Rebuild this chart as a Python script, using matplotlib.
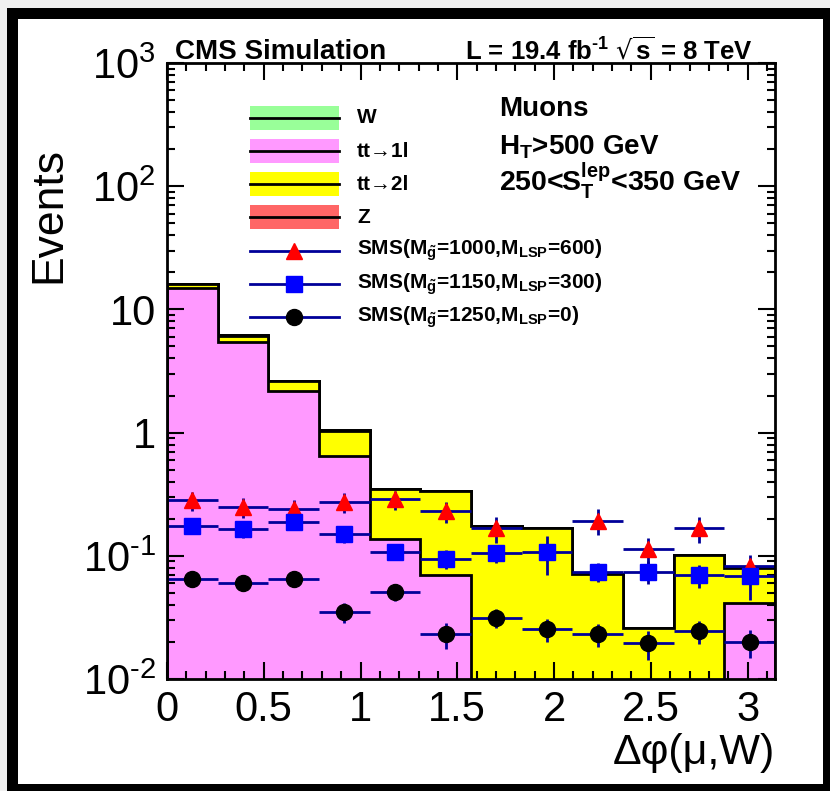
import numpy as np
import matplotlib
matplotlib.use('Agg')
import matplotlib.pyplot as plt
from matplotlib.patches import Rectangle
from matplotlib.ticker import MultipleLocator, FixedLocator, NullFormatter

plt.rcParams['font.family'] = ['Liberation Sans', 'DejaVu Sans']
plt.rcParams['mathtext.default'] = 'regular'

# 12 bins in delta phi, 0..pi
edges = np.linspace(0, np.pi, 13)

# background stack, bottom to top
tt1l = [14.9, 5.47, 2.19, 0.65, 0.136, 0.070, 0, 0, 0, 0, 0, 0.0416]
tt2l = [1.15, 0.65, 0.43, 0.39, 0.212, 0.266, 0.175, 0.168, 0.071, 0.026, 0.101, 0.0374]
wjets = [0.06, 0.03, 0.01, 0.005, 0, 0, 0, 0, 0, 0, 0, 0]
zjets = [0.02, 0.005, 0, 0, 0, 0, 0, 0, 0, 0, 0, 0]

# signal points
sms1000 = [0.282, 0.248, 0.240, 0.272, 0.287, 0.230, 0.167, np.nan, 0.193, 0.113, 0.167, 0.082]
sms1000_err = [0.05, 0.045, 0.043, 0.05, 0.05, 0.045, 0.04, np.nan, 0.045, 0.027, 0.04, 0.02]
sms1150 = [0.175, 0.164, 0.189, 0.150, 0.108, 0.095, 0.105, 0.108, 0.074, 0.0745, 0.0695, 0.068]
sms1150_err = [0.025, 0.024, 0.027, 0.022, 0.016, 0.017, 0.018, 0.038, 0.013, 0.0155, 0.0145, 0.024]
sms1250 = [0.065, 0.060, 0.065, 0.035, 0.051, 0.023, 0.0315, 0.0253, 0.0232, 0.0195, 0.0244, 0.020]
sms1250_err = [0.0085, 0.0085, 0.009, 0.0065, 0.008, 0.0055, 0.0055, 0.0055, 0.005, 0.0052, 0.005, 0.0052]

ytick_vals = [1e-2, 1e-1, 1, 10, 1e2, 1e3]
ytick_labels = ['$10^{\u2010 2}$', '$10^{\u2010 1}$', '1', '10', '$10^{2}$', '$10^{3}$']
xtick_vals = [0, 0.5, 1, 1.5, 2, 2.5, 3]
xtick_labels = ['0', '0.5', '1', '1.5', '2', '2.5', '3']

navy = '#000099'
bkg = [
    ('W', wjets, '#99ff99'),
    ('tt\u21921l', tt1l, '#ff99ff'),
    ('tt\u21922l', tt2l, '#ffff00'),
    ('Z', zjets, '#ff6666'),
]
stack_order = [tt1l, tt2l, wjets, zjets]
stack_colors = ['#ff99ff', '#ffff00', '#99ff99', '#ff6666']
signals = [
    ('SMS(M$_{\\tilde{g}}$=1000,M$_{LSP}$=600)', sms1000, sms1000_err, '^', 'red'),
    ('SMS(M$_{\\tilde{g}}$=1150,M$_{LSP}$=300)', sms1150, sms1150_err, 's', 'blue'),
    ('SMS(M$_{\\tilde{g}}$=1250,M$_{LSP}$=0)', sms1250, sms1250_err, 'o', 'black'),
]

fig = plt.figure(figsize=(8.3, 7.91), dpi=100)
fig.patch.set_facecolor('#f0f0f0')
W, H = 830.0, 791.0
fig.add_artist(Rectangle((7 / W, 0), 823 / W, 783 / H, transform=fig.transFigure,
                         facecolor='black', edgecolor='none', zorder=-2))
fig.add_artist(Rectangle((18 / W, 7 / H), 805 / W, 765 / H, transform=fig.transFigure,
                         facecolor='white', edgecolor='none', zorder=-1))

ax = fig.add_axes([167 / W, 1 - 679 / H, 608 / W, 616 / H])
ax.set_yscale('log')

# stacked histograms, drawn from the full stack down
cum = np.cumsum(np.array(stack_order, dtype=float), axis=0)
for vals, col in reversed(list(zip(cum, stack_colors))):
    v = np.where(vals > 0, vals, 1e-6)
    ax.stairs(v, edges, baseline=1e-6, fill=True, facecolor=col,
              edgecolor='black', linewidth=2, zorder=1)

centers = 0.5 * (edges[:-1] + edges[1:])
halfw = 0.5 * np.diff(edges)
for label, vals, errs, mk, col in signals:
    ax.errorbar(centers, vals, xerr=halfw, yerr=errs, fmt=mk, ms=11.5,
                mfc=col, mec=col, ecolor=navy, elinewidth=2, capsize=0, zorder=3)

ax.set_xlim(0, np.pi)
ax.set_ylim(1e-2, 1e3)
ax.xaxis.set_minor_locator(MultipleLocator(0.1))
ax.yaxis.set_major_locator(FixedLocator(ytick_vals))
ax.set_yticklabels(ytick_labels)
ax.yaxis.set_minor_formatter(NullFormatter())
ax.set_xticks(xtick_vals)
ax.set_xticklabels(xtick_labels)
ax.tick_params(which='both', direction='in', top=True, right=True, width=1.5,
               labelsize=30, pad=8)
ax.tick_params(which='major', length=12)
ax.tick_params(which='minor', length=6)
for s in ax.spines.values():
    s.set_linewidth(2)
    s.set_zorder(4)

ax.set_ylabel('Events', fontsize=32)
ax.yaxis.set_label_coords(-0.161, 0.753)
ax.set_xlabel('\u0394\u03c6(\u03bc,W)', fontsize=31, ha='right')
ax.xaxis.set_label_coords(1.0, -0.088)

ax.text(0.013, 1.006, 'CMS Simulation', transform=ax.transAxes, fontsize=20,
        fontweight='bold', ha='left', va='baseline')
ax.text(0.964, 1.006, 'L = 19.4 fb$^{\u2010 1}$ $\\sqrt{s}$ = 8 TeV', transform=ax.transAxes,
        fontsize=18.5, fontweight='bold', ha='right', va='baseline')

ax.text(0.546, 0.9145, 'Muons', transform=ax.transAxes, fontsize=20,
        fontweight='bold', va='baseline')
ax.text(0.546, 0.852, 'H$_{T}$>500 GeV', transform=ax.transAxes, fontsize=20,
        fontweight='bold', va='baseline')
ax.text(0.546, 0.791, '250<S$_{T}^{lep}$<350 GeV', transform=ax.transAxes, fontsize=20.5,
        fontweight='bold', va='baseline')

# legend, drawn in axes fraction
x0, x1, xt = 0.1365, 0.2829, 0.3125
y_top, step, hh = 0.911, 0.0539, 0.0195
rows = [(lab, col) for lab, _, col in bkg]
for i, (lab, col) in enumerate(rows):
    y = y_top - i * step
    ax.add_patch(Rectangle((x0, y - hh), x1 - x0, 2 * hh, transform=ax.transAxes,
                           facecolor=col, edgecolor='none', zorder=5))
    ax.plot([x0, x1], [y, y], color='black', lw=2, transform=ax.transAxes, zorder=6)
    ax.text(xt, y, lab, transform=ax.transAxes, fontsize=15, fontweight='bold',
            va='center', zorder=6)
for j, (lab, _, _, mk, col) in enumerate(signals):
    y = y_top - (len(rows) + j) * step
    ax.plot([x0, x1], [y, y], color=navy, lw=2, transform=ax.transAxes, zorder=6)
    ax.plot([(x0 + x1) / 2], [y], marker=mk, ms=11.5, color=col, transform=ax.transAxes,
            zorder=7)
    ax.text(xt, y, lab, transform=ax.transAxes, fontsize=15, fontweight='bold',
            va='center', zorder=6)

fig.savefig('out.png', dpi=100, facecolor=fig.get_facecolor())
